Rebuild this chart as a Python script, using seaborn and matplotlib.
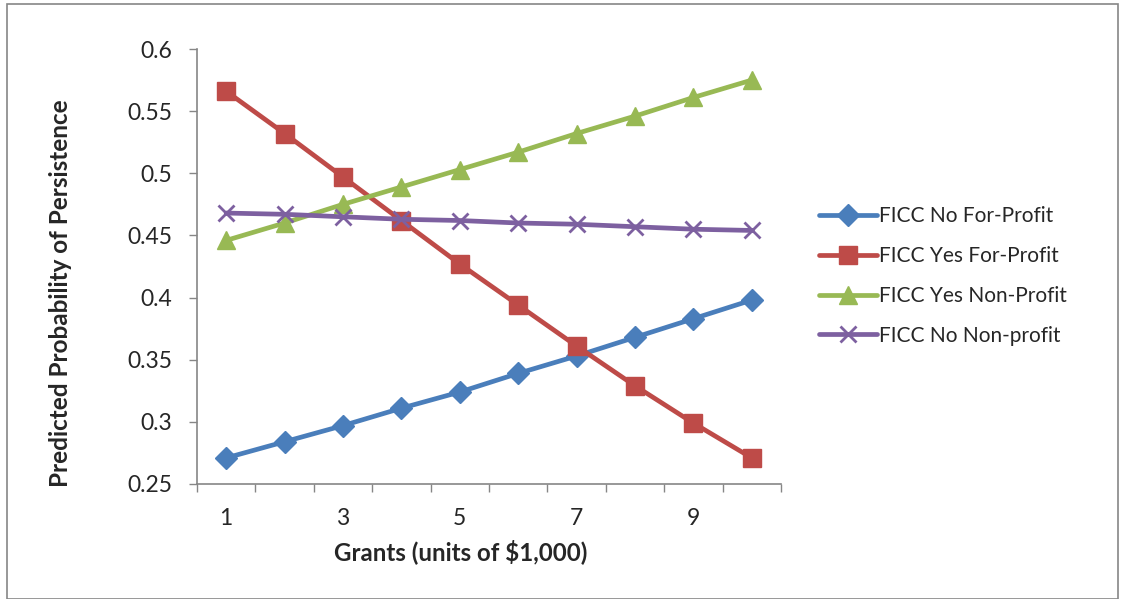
import matplotlib
matplotlib.use("Agg")
import matplotlib.pyplot as plt
import seaborn as sns
import pandas as pd
from matplotlib.patches import Rectangle

grants = [1, 2, 3, 4, 5, 6, 7, 8, 9, 10]
no_forprofit = [0.271, 0.284, 0.297, 0.311, 0.324, 0.339, 0.353, 0.368, 0.383, 0.398]
yes_forprofit = [0.566, 0.532, 0.497, 0.462, 0.427, 0.394, 0.361, 0.329, 0.299, 0.271]
yes_nonprofit = [0.446, 0.460, 0.475, 0.489, 0.503, 0.517, 0.532, 0.546, 0.561, 0.575]
no_nonprofit = [0.468, 0.467, 0.465, 0.463, 0.462, 0.460, 0.459, 0.457, 0.455, 0.454]
series_names = ["FICC No For-Profit", "FICC Yes For-Profit", "FICC Yes Non-Profit", "FICC No Non-profit"]
y_ticks = [0.25, 0.3, 0.35, 0.4, 0.45, 0.5, 0.55, 0.6]
y_tick_labels = ["0.25", "0.3", "0.35", "0.4", "0.45", "0.5", "0.55", "0.6"]
x_label_vals = [1, 3, 5, 7, 9]

sns.set_theme(style="white")
plt.rcParams['font.family'] = ['Lato', 'DejaVu Sans']

fig = plt.figure(figsize=(11.23, 5.99), dpi=100)
W, H = 1123, 599
ax = fig.add_axes([197 / W, 1 - 484 / H, (781 - 197) / W, (484 - 49) / H])

styles = [
    ("#4A7EBB", "D", 11, 1.0),
    ("#BE4B48", "s", 13, 1.0),
    ("#98B954", "^", 13, 1.0),
    ("#7D60A0", "x", 12, 2.0),
]
all_vals = [no_forprofit, yes_forprofit, yes_nonprofit, no_nonprofit]
for name, vals, (col, mk, ms, mew) in zip(series_names, all_vals, styles):
    df = pd.DataFrame({"Grants": grants, "Prob": vals})
    sns.lineplot(data=df, x="Grants", y="Prob", ax=ax, color=col, linewidth=3.4,
                 marker=mk, markersize=ms, markeredgecolor=col, markeredgewidth=mew,
                 label=name)

ax.set_xlim(0.5, 10.5)
ax.set_ylim(0.25, 0.6)
ax.set_yticks(y_ticks)
ax.set_yticklabels(y_tick_labels)
ax.set_xticks([i + 0.5 for i in range(0, 11)])
ax.set_xticklabels([])
ax.set_xticks(x_label_vals, minor=True)
ax.set_xticklabels([str(v) for v in x_label_vals], minor=True)
ax.tick_params(axis="x", which="major", direction="out", length=6, width=1, color="#868686", bottom=True)
ax.tick_params(axis="x", which="minor", length=0, pad=17, labelsize=16.5)
ax.tick_params(axis="y", direction="out", length=6, width=1, color="#868686", left=True, labelsize=16.5, pad=12)

for s in ["top", "right"]:
    ax.spines[s].set_visible(False)
for s in ["left", "bottom"]:
    ax.spines[s].set_color("#868686")
    ax.spines[s].set_linewidth(1.2)
ax.grid(False)

ax.set_xlabel("Grants (units of $1,000)", fontsize=17.3, fontweight="bold")
ax.set_ylabel("Predicted Probability of Persistence", fontsize=17.5, fontweight="bold")
ax.xaxis.set_label_coords((461 - 197) / 584, -(552 - 484) / 435)
ax.yaxis.set_label_coords(-(197 - 61) / 584, (484 - 293) / 435)
ax.xaxis.label.set_va("center")
ax.yaxis.label.set_va("center")

leg = ax.legend(loc="center left", bbox_to_anchor=(800 / W, 1 - 276 / H), bbox_transform=fig.transFigure,
                frameon=False, fontsize=15, handlelength=2.8, handletextpad=0.1, labelspacing=0.95)

fig.patches.append(Rectangle((7 / W, 0), (1118 - 7) / W, 1 - 4 / H, transform=fig.transFigure,
                             fill=False, edgecolor="#868686", linewidth=1.2))

fig.savefig("out.png", dpi=100)
